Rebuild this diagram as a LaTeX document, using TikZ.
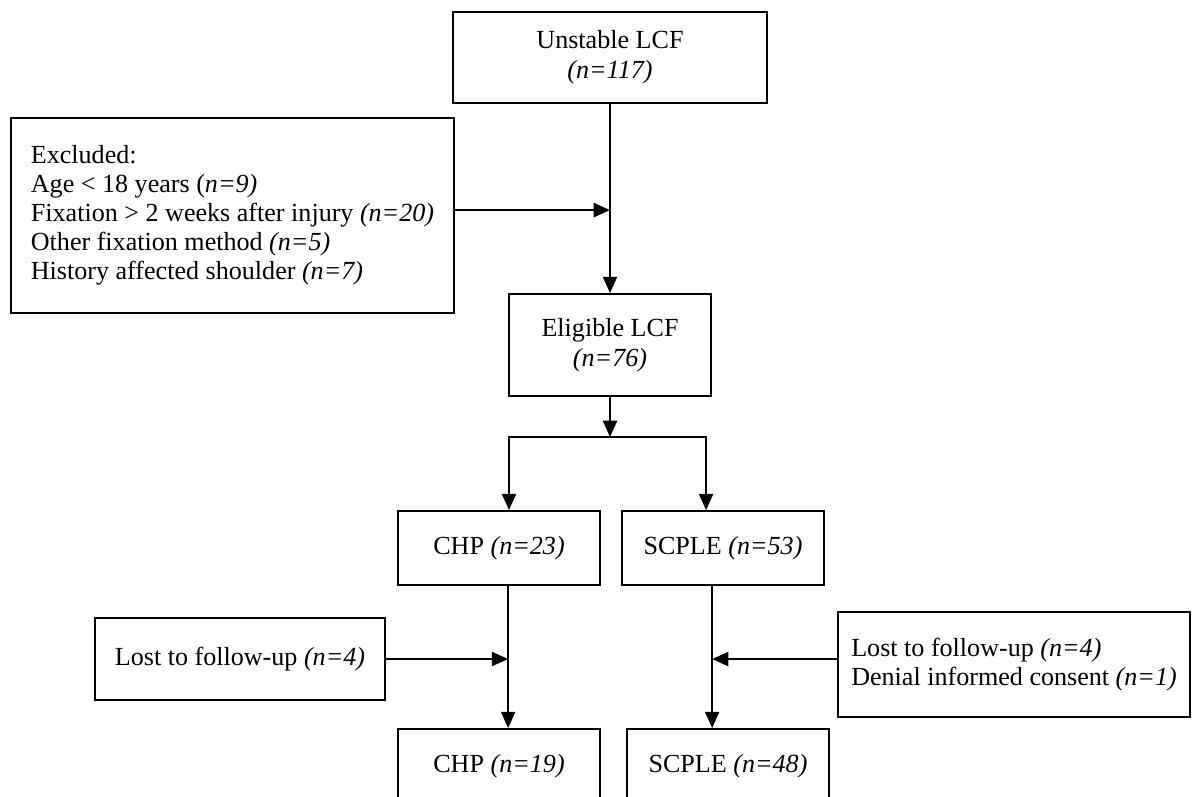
\documentclass[tikz,border=0pt]{standalone}
\usepackage{fontspec}
\setmainfont{Liberation Serif}
\usetikzlibrary{arrows.meta,positioning}

\begin{document}
\begin{tikzpicture}[x=0.46pt,y=-0.46pt,line width=0.9pt,
  box/.style={draw,inner sep=0pt,align=center,font=\fontsize{12}{14}\selectfont},
  arr/.style={-{Triangle[length=7.5pt,width=6.5pt]}}]
\useasboundingbox (0,0) rectangle (1195,796);
\clip (0,0) rectangle (1195,796);
% boxes
\node[box,minimum width=144.4pt,minimum height=41.9pt] (unstable) at (610,57.5) {Unstable LCF\\\textit{(n=117)}};
\node[box,minimum width=203.8pt,minimum height=89.7pt,align=left,font=\fontsize{12}{13.3}\selectfont] (excluded) at (232.5,215.5) {Excluded:\\Age < 18 years (\textit{n=9)}\\Fixation > 2 weeks after injury \textit{(n=20)}\\Other fixation method \textit{(n=5)}\\History affected shoulder \textit{(n=7)}};
\node[box,minimum width=92.9pt,minimum height=46.9pt] (eligible) at (610,345) {Eligible LCF\\\textit{(n=76)}};
\node[box,minimum width=92.9pt,minimum height=34pt] (chp) at (499,548) {CHP \textit{(n=23)}};
\node[box,minimum width=92.9pt,minimum height=34pt] (scple) at (723,548) {SCPLE \textit{(n=53)}};
\node[box,minimum width=133.4pt,minimum height=37.3pt] (lostchp) at (240,659) {Lost to follow-up \textit{(n=4)}};
\node[box,minimum width=161.9pt,minimum height=48.3pt,align=left,font=\fontsize{12}{13}\selectfont] (lostscple) at (1014,664.5) {Lost to follow-up \textit{(n=4)}\\Denial informed consent \textit{(n=1)}};
\node[box,minimum width=92.9pt,minimum height=34pt] (chpfu) at (499,766) {CHP \textit{(n=19)}};
\node[box,minimum width=92.9pt,minimum height=34pt] (scplefu) at (728,766) {SCPLE \textit{(n=48)}};
% connectors
\coordinate (split) at (610,437);
\coordinate (chpline) at ([xshift=4.2pt]chp.south);
\coordinate (scpleline) at ([xshift=-5pt]scple.south);
\draw[arr] (unstable) -- (eligible);
\draw[arr] ([yshift=2.5pt]excluded.east) -- ([yshift=2.5pt]excluded.east -| eligible.north);
\draw[arr] (eligible) -- (split);
\draw[arr] (split) -| ([xshift=4.6pt]chp.north);
\draw[arr] (split) -| ([xshift=-7.8pt]scple.north);
\draw[arr] (chpline) -- (chpline |- chpfu.north);
\draw[arr] (scpleline) -- (scpleline |- scplefu.north);
\draw[arr] (lostchp) -- (lostchp -| chpline);
\draw[arr] ([yshift=2.5pt]lostscple.west) -- ([yshift=2.5pt]lostscple.west -| scpleline);
\end{tikzpicture}
\end{document}
